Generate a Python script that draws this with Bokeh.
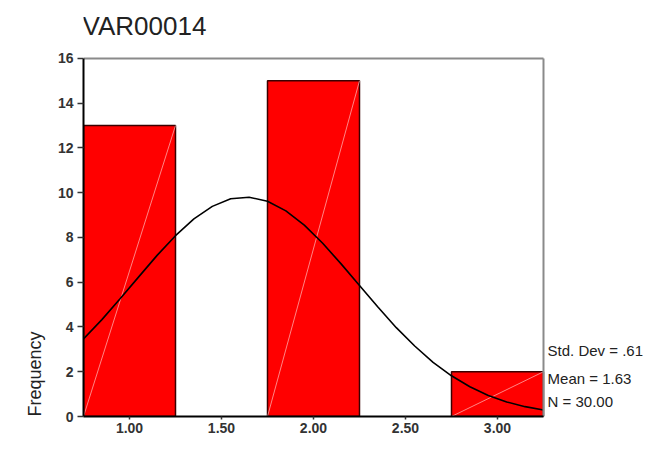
from bokeh.plotting import figure
from bokeh.models import FixedTicker, PrintfTickFormatter, Range1d, Title
from bokeh.core.properties import value
from bokeh.embed import file_html
from bokeh.resources import INLINE

# ---- data ----
title_text = "VAR00014"
bin_centers = [1.00, 2.00, 3.00]
frequencies = [13, 15, 2]
bin_width = 0.5
x_ticks = [1.00, 1.50, 2.00, 2.50, 3.00]
y_ticks = [0, 2, 4, 6, 8, 10, 12, 14, 16]
curve_x = [0.75, 0.85, 0.95, 1.05, 1.15, 1.25, 1.35, 1.45, 1.55, 1.65, 1.75, 1.85, 1.95,
           2.05, 2.15, 2.25, 2.35, 2.45, 2.55, 2.65, 2.75, 2.85, 2.95, 3.05, 3.15, 3.25]
curve_y = [3.47, 4.33, 5.27, 6.24, 7.20, 8.08, 8.83, 9.39, 9.73, 9.80, 9.62, 9.19, 8.55,
           7.74, 6.82, 5.85, 4.89, 3.97, 3.15, 2.42, 1.82, 1.33, 0.94, 0.65, 0.44, 0.29]
stats_lines = ["Std. Dev = .61", "Mean = 1.63", "N = 30.00"]
stats_y = [2.95, 1.70, 0.67]
y_label = "Frequency"

FONT = "Liberation Sans"
X0, X1 = 0.75, 3.25
Y0, Y1 = 0, 16

p = figure(width=643, height=438, output_backend="svg", toolbar_location=None,
           x_range=Range1d(X0, 3.7935), y_range=Range1d(Y0, 18.59),
           min_border_left=83, min_border_right=0, min_border_top=0, min_border_bottom=22)
p.grid.visible = False
p.background_fill_color = "white"
p.border_fill_color = "white"
p.outline_line_color = None

lefts = [c - bin_width / 2 for c in bin_centers]
rights = [c + bin_width / 2 for c in bin_centers]
p.quad(left=lefts, right=rights, bottom=0, top=frequencies,
       fill_color="#ff0000", line_color="#3a0000", line_width=1.5)
p.segment(x0=lefts, y0=[0] * len(frequencies), x1=rights, y1=frequencies,
          line_color="#ffd0d0", line_width=0.8, line_alpha=0.8)
p.line(curve_x, curve_y, line_color="black", line_width=1.6)

# top and right frame borders
p.segment(x0=[X0, X1], y0=[Y1, Y0], x1=[X1, X1], y1=[Y1, Y1],
          line_color="#8a8a8a", line_width=2)

for ax in (p.xaxis[0], p.yaxis[0]):
    ax.axis_line_color = "black"
    ax.axis_line_width = 2
    ax.major_tick_line_color = "#333333"
    ax.major_tick_line_width = 1.5
    ax.major_tick_in = 0
    ax.minor_tick_line_color = None
    ax.major_label_text_font = FONT
    ax.major_label_text_font_style = "bold"
    ax.major_label_text_font_size = "14px"
    ax.major_label_text_color = "#333333"

p.xaxis.ticker = FixedTicker(ticks=x_ticks)
p.xaxis.formatter = PrintfTickFormatter(format="%.2f")
p.xaxis.bounds = (X0, X1)
p.xaxis.major_tick_out = 3
p.xaxis.major_label_standoff = 3
p.yaxis.ticker = FixedTicker(ticks=y_ticks)
p.yaxis.bounds = (Y0, Y1)
p.yaxis.major_tick_out = 6
p.yaxis.major_label_standoff = 4

# title inside the extended frame
p.text(x=[0.745], y=[17.47], text=[title_text], text_font=value(FONT), text_font_size="26px",
       text_color="#222222", text_baseline="alphabetic", text_align="left")
# stats text
p.text(x=[3.272] * len(stats_lines), y=stats_y, text=stats_lines, text_font=value(FONT),
       text_font_size="15px", text_color="#222222", text_align="left", text_baseline="middle")

# y label as a side title
p.add_layout(Title(text=y_label, align="left", text_font=FONT, text_font_size="18px",
                   text_font_style="normal", text_color="#222222", standoff=20), "left")

open("out.html", "w").write(file_html(p, INLINE))
